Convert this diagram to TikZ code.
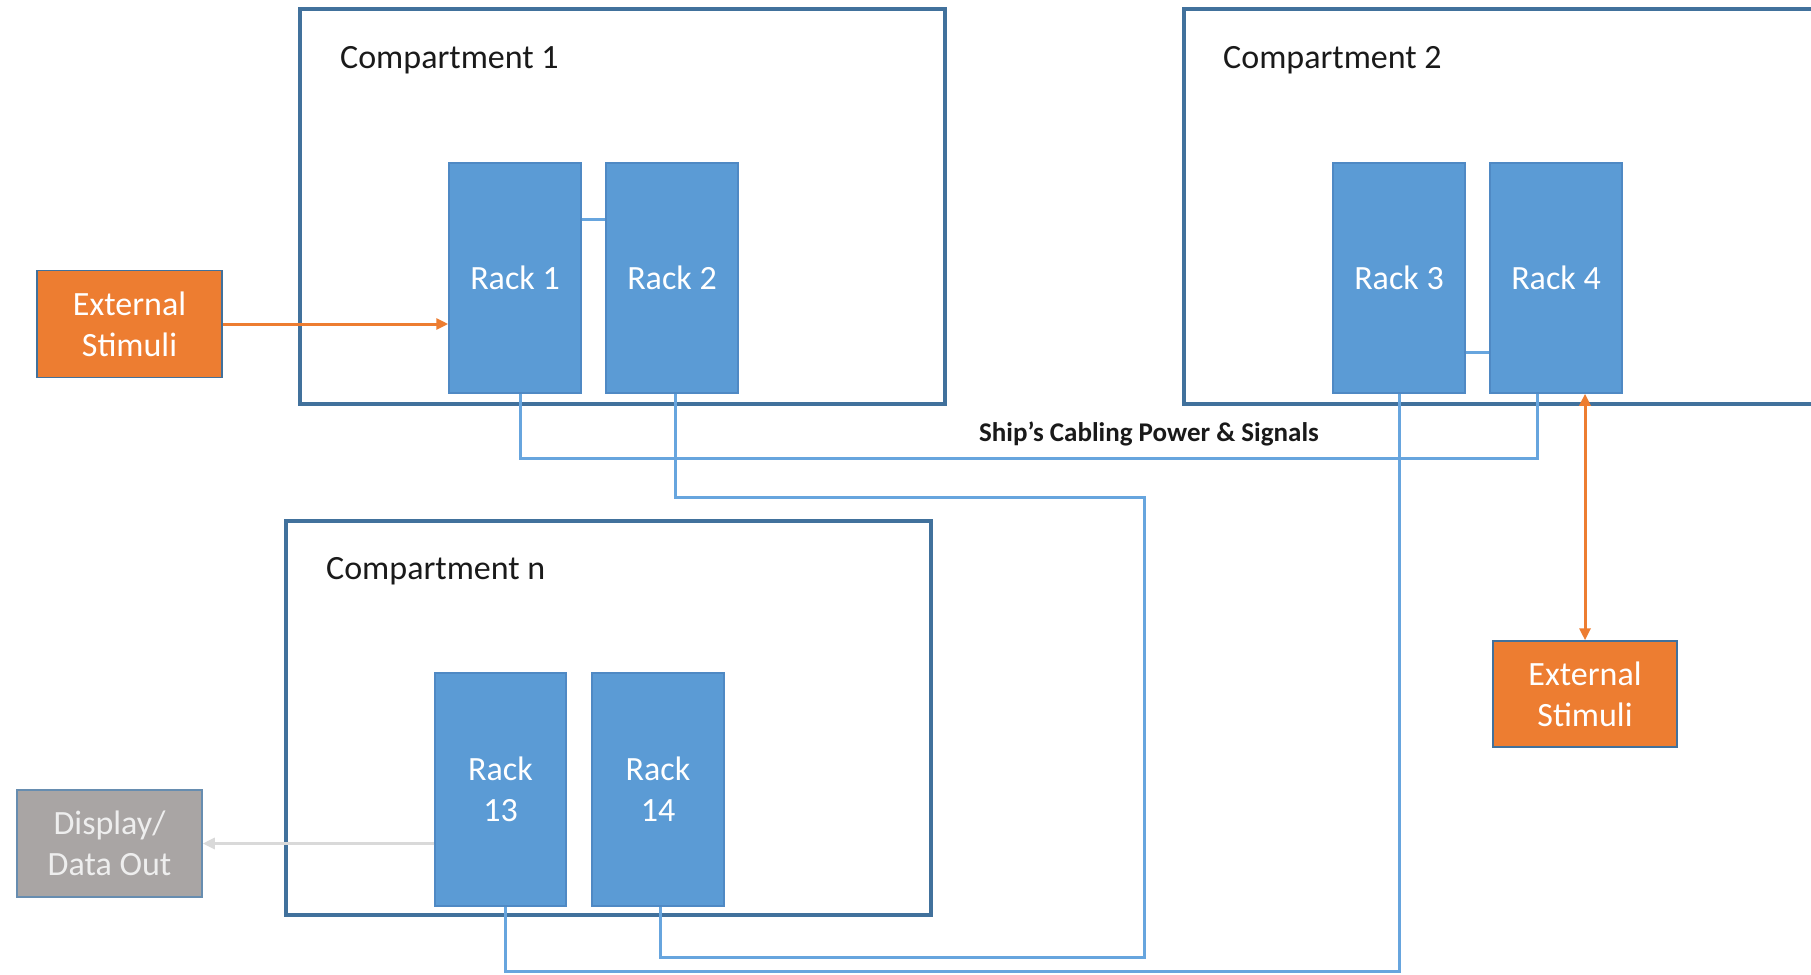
\documentclass[tikz,border=0pt]{standalone}
\usepackage{fontspec}
\setmainfont{Carlito}
\usetikzlibrary{arrows.meta}
\definecolor{rackblue}{HTML}{5B9BD5}
\definecolor{rackedge}{HTML}{4F89C4}
\definecolor{compedge}{HTML}{41719C}
\definecolor{cablecol}{HTML}{67A5DE}
\definecolor{stimorange}{HTML}{ED7D31}
\definecolor{outgrey}{HTML}{A9A5A4}
\definecolor{outtext}{HTML}{EEEEEE}
\definecolor{outarrow}{HTML}{D9D9D9}
\definecolor{labeltext}{HTML}{1A1A1A}
\tikzset{
  comp/.style={draw=compedge, line width=4pt, fill=white, inner sep=0pt},
  complabel/.style={anchor=west, inner sep=0pt, text=labeltext, font=\fontsize{34}{41}\selectfont},
  rack/.style={draw=rackedge, line width=1.5pt, fill=rackblue, text=white, align=center,
    minimum width=132pt, minimum height=230pt, inner sep=0pt, font=\fontsize{34}{41}\selectfont},
  stim/.style={draw=compedge, line width=1.5pt, fill=stimorange, text=white, align=center,
    minimum width=185pt, minimum height=107pt, inner sep=0pt, font=\fontsize{34}{41}\selectfont},
  outbox/.style={draw=compedge!80, line width=1.5pt, fill=outgrey, text=outtext, align=center,
    minimum width=185pt, minimum height=107pt, inner sep=0pt, font=\fontsize{34}{41}\selectfont},
  cable/.style={draw=cablecol, line width=3pt},
  stimline/.style={draw=stimorange, line width=3pt, -{Triangle[length=12pt,width=11pt]}},
  stimboth/.style={draw=stimorange, line width=3pt, {Triangle[length=12pt,width=11pt]}-{Triangle[length=12pt,width=11pt]}},
  outline/.style={draw=outarrow, line width=3.5pt, -{Triangle[length=12pt,width=11pt]}},
}
\begin{document}
\begin{tikzpicture}[x=1pt,y=-1pt]
\clip (0,0) rectangle (1811,974);
\fill[white] (0,0) rectangle (1811,974);

% compartments
\node[comp, minimum width=645pt, minimum height=395pt] (c1) at (622.5,206.5) {};
\node[comp, minimum width=646pt, minimum height=395pt] (c2) at (1507,206.5) {};
\node[comp, minimum width=645pt, minimum height=394pt] (cn) at (608.5,718) {};
\node[complabel] (c1lab) at (340,60) {Compartment 1};
\node[complabel] (c2lab) at (1223,60) {Compartment 2};
\node[complabel] (cnlab) at (326,571) {Compartment n};

% bends of the long cable runs
\coordinate (bendA) at (1144,957);
\coordinate (bendB) at (1399,971);

% racks
\node[rack] (rack1) at (515,278) {Rack 1};
\node[rack] (rack2) at (672,278) {Rack 2};
\node[rack] (rack3) at (1399,278) {Rack 3};
\node[rack] (rack4) at (1556,278) {Rack 4};
\node[rack, minimum width=131pt, minimum height=233pt] (rack13) at (500.5,789.5) {Rack\\13};
\node[rack, minimum width=132pt, minimum height=233pt] (rack14) at (658,789.5) {Rack\\14};

% ship's cabling between the racks
\draw[cable] ([xshift=5pt]rack1.south) -- ++(0,65) -| ([xshift=-19pt]rack4.south);
\draw[cable] ([xshift=3pt]rack2.south) -- ++(0,104) -| (bendA) -| ([xshift=2pt]rack14.south);
\draw[cable] (rack3.south) -- (bendB) -| ([xshift=4.5pt]rack13.south);
\draw[cable] ([yshift=59pt]rack1.east) -- ([yshift=59pt]rack2.west);
\draw[cable] ([yshift=-74pt]rack3.east) -- ([yshift=-74pt]rack4.west);
\node[font=\bfseries\fontsize{27}{32}\selectfont, text=labeltext, inner sep=0pt] (cabling) at (1149,434) {Ship’s Cabling Power \& Signals};

% external stimuli and output
\node[stim] (es1) at (129.5,324) {External\\Stimuli};
\node[stim, minimum width=184pt, minimum height=106pt] (es2) at (1585,694) {External\\Stimuli};
\node[outbox] (disp) at (109.5,843.5) {Display/\\Data Out};

\draw[stimline] (es1.east) -- (rack1.west |- es1.east);
\draw[stimboth] (es2.north) -- (es2.north |- rack4.south);
\draw[outline] (rack13.west |- disp.east) -- (disp.east);
\end{tikzpicture}
\end{document}
